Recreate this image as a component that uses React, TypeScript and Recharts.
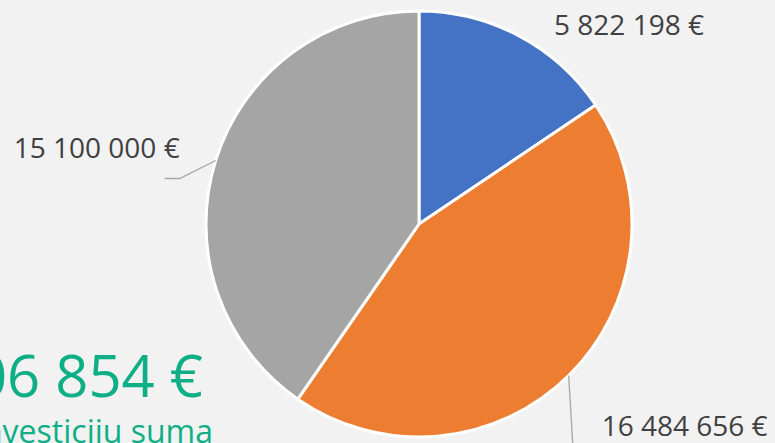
import React from 'react';
import { PieChart, Pie, Cell } from 'recharts';

const names = ['A', 'B', 'C'];
const values = [5822198, 16484656, 15100000];
const colors = ['#4472C4', '#ED7D31', '#A5A5A5'];
const totalLabel = '37 406 854 €';
const subtitle = 'Investicijų suma';

const data = names.map((name, i) => ({ name, value: values[i] }));

const fmt = (v: number) => v.toLocaleString('en-US').replace(/,/g, ' ') + ' €';

// label offsets from the slice's outer edge point
const labelLayout = [
  { dx: 35, dy: -1, anchor: 'start', line: null as null | number[][] },
  { dx: 33, dy: 60, anchor: 'start', line: [[5, 85]] },
  { dx: -36, dy: -3, anchor: 'end', line: [[-36, 18], [-51, 18]] },
];

const RAD = Math.PI / 180;

const renderLabel = (props: any) => {
  const { cx, cy, midAngle, outerRadius, index, value } = props;
  const ex = cx + outerRadius * Math.cos(-midAngle * RAD);
  const ey = cy + outerRadius * Math.sin(-midAngle * RAD);
  const l = labelLayout[index];
  const pts = l.line ? [[ex, ey], ...l.line.map(([a, b]) => [ex + a, ey + b])] : null;
  return (
    <g key={`lbl-${index}`}>
      {pts && (
        <polyline
          points={pts.map((p) => p.join(',')).join(' ')}
          fill="none"
          stroke="#A6A6A6"
          strokeWidth={1.3}
        />
      )}
      <text
        x={ex + l.dx}
        y={ey + l.dy}
        textAnchor={l.anchor as any}
        fill="#404040"
        fontSize={28}
        fontFamily="'Open Sans', sans-serif"
      >
        {fmt(value)}
      </text>
    </g>
  );
};

export default function App() {
  return (
    <div style={{ width: 775, height: 443, background: '#F2F2F2', overflow: 'hidden', position: 'relative' }}>
      <style>{`body{margin:0}`}</style>
      <PieChart width={775} height={443} margin={{ top: 0, right: 0, bottom: 0, left: 0 }}>
        <text
          x={203}
          y={397}
          textAnchor="end"
          fill="#0EAF87"
          fontSize={58}
          fontFamily="'Open Sans', sans-serif"
        >
          {totalLabel}
        </text>
        <text
          x={213}
          y={443}
          textAnchor="end"
          fill="#0EAF87"
          fontSize={32}
          fontFamily="'Open Sans', sans-serif"
        >
          {subtitle}
        </text>
        <Pie
          data={data}
          dataKey="value"
          cx={419}
          cy={224}
          outerRadius={213}
          startAngle={90}
          endAngle={-270}
          stroke="#FFFFFF"
          strokeWidth={3}
          label={renderLabel}
          labelLine={false}
          isAnimationActive={false}
        >
          {data.map((d, i) => (
            <Cell key={d.name} fill={colors[i]} />
          ))}
        </Pie>
      </PieChart>
    </div>
  );
}
